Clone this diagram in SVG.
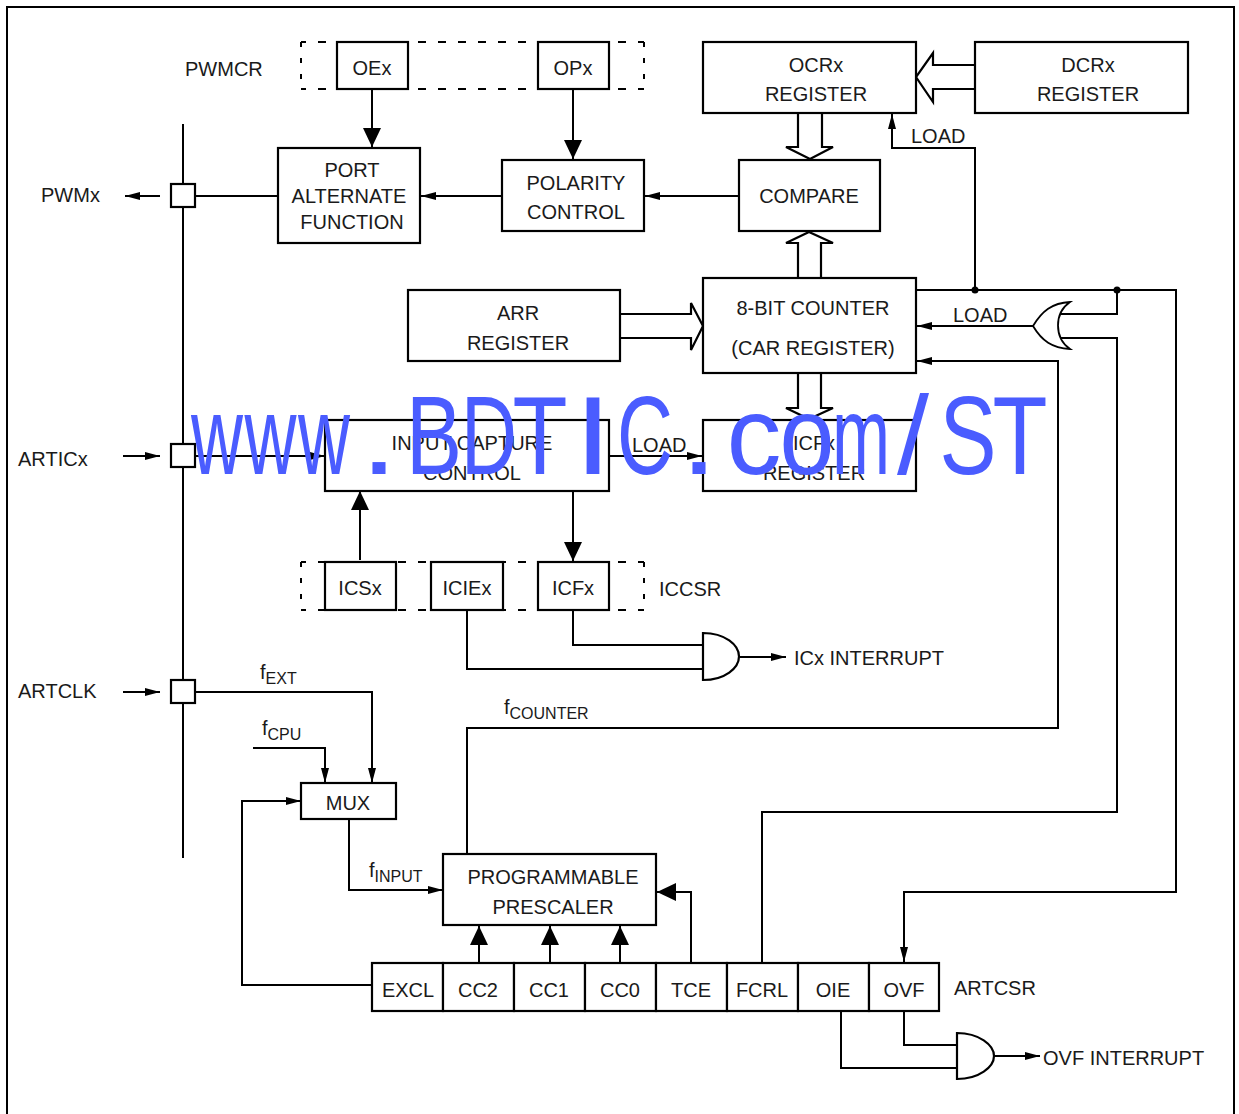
<svg xmlns="http://www.w3.org/2000/svg" width="1239" height="1114" viewBox="0 0 1239 1114">
<defs>
<marker id="a" markerUnits="userSpaceOnUse" markerWidth="16" markerHeight="10" refX="15" refY="5" orient="auto"><path d="M0 1L15 5L0 9Z" fill="#000"/></marker>
<marker id="b" markerUnits="userSpaceOnUse" markerWidth="20" markerHeight="20" refX="19" refY="10" orient="auto"><path d="M0 1L19 10L0 19Z" fill="#000"/></marker>
</defs>
<style>
text{font-family:"Liberation Sans",Arial,sans-serif;font-size:20px;fill:#1a1a1a;text-anchor:middle}
.l{text-anchor:start}
.sub{font-size:16px}
rect,.s{fill:#fff;stroke:#000;stroke-width:2.2}
.n{fill:none;stroke:#000;stroke-width:2}
.t{fill:none;stroke:#000;stroke-width:2.2}
.d{fill:none;stroke:#000;stroke-width:2;stroke-dasharray:8 12;stroke-dashoffset:3}
.v{fill:none;stroke:#000;stroke-width:2;stroke-dasharray:5 11}
.wm{font-size:112px;fill:#4a5cff;text-anchor:start}
</style>
<rect x="7" y="7" width="1227" height="1120" style="fill:#fff;stroke:#000;stroke-width:2"/>
<g id="connectors">
<path class="n" d="M183 124V858"/>
<path class="d" d="M301 42H644M301 89H644"/>
<path class="v" d="M301 42V89M644 42V89"/>
<path class="d" d="M301 562H644M301 610H644"/>
<path class="v" d="M301 562V610M644 562V610"/>
<path class="n" d="M372 89V147" marker-end="url(#b)"/>
<path class="n" d="M573 89V159" marker-end="url(#b)"/>
<path class="n" d="M278 196H195"/>
<path class="n" d="M160 196H125" marker-end="url(#a)"/>
<path class="n" d="M502 196H421" marker-end="url(#a)"/>
<path class="n" d="M739 196H645" marker-end="url(#a)"/>
<path class="n" d="M917 290H1176V892H904V962" marker-end="url(#a)"/>
<path class="n" d="M975 290V148H892V114" marker-end="url(#a)"/>
<path class="n" d="M1117 290V314H1060M1060 338H1117V812H762V963"/>
<path class="n" d="M1034 326H917" marker-end="url(#a)"/>
<path class="n" d="M467 854V728H1058V361H917" marker-end="url(#a)"/>
<path class="n" d="M609 456H702" marker-end="url(#a)"/>
<path class="n" d="M195 456H325" marker-end="url(#a)"/>
<path class="n" d="M123 456H160" marker-end="url(#a)"/>
<path class="n" d="M123 692H160" marker-end="url(#a)"/>
<path class="n" d="M360 560V491" marker-end="url(#b)"/>
<path class="n" d="M573 491V561" marker-end="url(#b)"/>
<path class="n" d="M573 610V645H703M467 610V669H703"/>
<path class="n" d="M740 657H786" marker-end="url(#a)"/>
<path class="n" d="M195 692H372V783" marker-end="url(#a)"/>
<path class="n" d="M253 748H325V783" marker-end="url(#a)"/>
<path class="n" d="M372 985H242V801H301" marker-end="url(#a)"/>
<path class="n" d="M349 819V890H443" marker-end="url(#a)"/>
<path class="n" d="M479 963V926" marker-end="url(#b)"/>
<path class="n" d="M550 963V926" marker-end="url(#b)"/>
<path class="n" d="M620 963V926" marker-end="url(#b)"/>
<path class="n" d="M691 963V892H657" marker-end="url(#b)"/>
<path class="n" d="M904 1011V1045H957M841 1011V1068H957"/>
<path class="n" d="M994 1056H1040" marker-end="url(#a)"/>
<path class="s" d="M975 65H933V53L916 77L933 102V89H975"/>
<path class="s" d="M798 113V147H786L810 159L833 147H822V113"/>
<path class="s" d="M798 278V243H786L809 232L833 243H821V278"/>
<path class="s" d="M620 314H691V303L703 326L691 350V338H620"/>
<path class="s" d="M798 373V408H786L809 419L833 408H821V373"/>
</g>
<g id="junctions"><circle cx="975" cy="290" r="3.500"/><circle cx="1117" cy="290" r="3.500"/></g>
<g id="pin-pwm"><rect x="171" y="184" width="24" height="23"/></g>
<g id="pin-artic"><rect x="171" y="444" width="24" height="23"/></g>
<g id="pin-artclk"><rect x="171" y="680" width="24" height="23"/></g>
<g id="oex"><rect x="337" y="42" width="71" height="47"/><text x="372" y="75">OEx</text></g>
<g id="opx"><rect x="538" y="42" width="71" height="47"/><text x="573" y="75">OPx</text></g>
<g id="ocr"><rect x="703" y="42" width="213" height="71"/><text x="816" y="72">OCRx</text><text x="816" y="101">REGISTER</text></g>
<g id="dcr"><rect x="975" y="42" width="213" height="71"/><text x="1088" y="72">DCRx</text><text x="1088" y="101">REGISTER</text></g>
<g id="paf"><rect x="278" y="148" width="142" height="95"/><text x="352" y="177">PORT</text><text x="349" y="203">ALTERNATE</text><text x="352" y="229">FUNCTION</text></g>
<g id="pol"><rect x="502" y="160" width="142" height="71"/><text x="576" y="190">POLARITY</text><text x="576" y="219">CONTROL</text></g>
<g id="cmp"><rect x="739" y="160" width="141" height="71"/><text x="809" y="203">COMPARE</text></g>
<g id="arr"><rect x="408" y="290" width="212" height="71"/><text x="518" y="320">ARR</text><text x="518" y="350">REGISTER</text></g>
<g id="cnt"><rect x="703" y="278" width="213" height="95"/><text x="813" y="315">8-BIT COUNTER</text><text x="813" y="355">(CAR REGISTER)</text></g>
<g id="icc"><rect x="325" y="420" width="284" height="71"/><text x="472" y="450">INPUT CAPTURE</text><text x="472" y="480">CONTROL</text></g>
<g id="icr"><rect x="703" y="420" width="213" height="71"/><text x="814" y="450">ICFx</text><text x="814" y="480">REGISTER</text></g>
<g id="icsx"><rect x="325" y="562" width="71" height="48"/><text x="360" y="595">ICSx</text></g>
<g id="iciex"><rect x="431" y="562" width="72" height="48"/><text x="467" y="595">ICIEx</text></g>
<g id="icfx"><rect x="538" y="562" width="71" height="48"/><text x="573" y="595">ICFx</text></g>
<g id="mux"><rect x="301" y="783" width="95" height="36"/><text x="348" y="810">MUX</text></g>
<g id="presc"><rect x="443" y="854" width="213" height="71"/><text x="553" y="884">PROGRAMMABLE</text><text x="553" y="914">PRESCALER</text></g>
<g id="csr">
<rect x="372" y="963" width="71" height="48"/><text x="408" y="997">EXCL</text>
<rect x="443" y="963" width="71" height="48"/><text x="478" y="997">CC2</text>
<rect x="514" y="963" width="71" height="48"/><text x="549" y="997">CC1</text>
<rect x="585" y="963" width="71" height="48"/><text x="620" y="997">CC0</text>
<rect x="656" y="963" width="71" height="48"/><text x="691" y="997">TCE</text>
<rect x="727" y="963" width="71" height="48"/><text x="762" y="997">FCRL</text>
<rect x="798" y="963" width="71" height="48"/><text x="833" y="997">OIE</text>
<rect x="869" y="963" width="70" height="48"/><text x="904" y="997">OVF</text>
</g>
<g id="and1"><path class="t" d="M703 633C725 633 739 645 739 656.500C739 668 725 680 703 680Z"/></g>
<g id="and2"><path class="t" d="M957 1033C979 1033 994 1045 994 1056C994 1067 979 1079 957 1079Z"/></g>
<g id="or1"><path class="t" style="stroke-width:1.800" d="M1070 302C1052 303 1042 311 1033 326C1042 341 1052 348 1070 349C1054 338 1054 313 1070 302Z"/></g>
<g id="labels">
<text class="l" x="185" y="76">PWMCR</text>
<text class="l" x="41" y="202">PWMx</text>
<text class="l" x="18" y="466">ARTICx</text>
<text class="l" x="18" y="698">ARTCLK</text>
<text class="l" x="659" y="596">ICCSR</text>
<text class="l" x="954" y="995">ARTCSR</text>
<text class="l" x="794" y="665">ICx INTERRUPT</text>
<text class="l" x="1043" y="1065">OVF INTERRUPT</text>
<text class="l" x="911" y="143">LOAD</text>
<text class="l" x="953" y="322">LOAD</text>
<text class="l" x="632" y="452">LOAD</text>
<text class="l" x="260" y="679">f<tspan class="sub" dy="5">EXT</tspan></text>
<text class="l" x="262" y="735">f<tspan class="sub" dy="5">CPU</tspan></text>
<text class="l" x="369" y="877">f<tspan class="sub" dy="5">INPUT</tspan></text>
<text class="l" x="504" y="714">f<tspan class="sub" dy="5">COUNTER</tspan></text>
</g>
<text class="wm" y="474"><tspan x="191" textLength="52" lengthAdjust="spacingAndGlyphs">w</tspan><tspan x="244.500" textLength="52" lengthAdjust="spacingAndGlyphs">w</tspan><tspan x="298" textLength="52" lengthAdjust="spacingAndGlyphs">w</tspan><tspan x="360" textLength="38" lengthAdjust="spacingAndGlyphs">.</tspan><tspan x="406" textLength="56" lengthAdjust="spacingAndGlyphs">B</tspan><tspan x="461" textLength="56" lengthAdjust="spacingAndGlyphs">D</tspan><tspan x="512.500" textLength="55" lengthAdjust="spacingAndGlyphs">T</tspan><tspan x="574" textLength="38" lengthAdjust="spacingAndGlyphs">I</tspan><tspan x="617" textLength="56" lengthAdjust="spacingAndGlyphs">C</tspan><tspan x="680" textLength="38" lengthAdjust="spacingAndGlyphs">.</tspan><tspan x="726.500" textLength="55" lengthAdjust="spacingAndGlyphs">c</tspan><tspan x="779.500" textLength="55" lengthAdjust="spacingAndGlyphs">o</tspan><tspan x="832" textLength="58" lengthAdjust="spacingAndGlyphs">m</tspan><tspan x="897" textLength="32" lengthAdjust="spacingAndGlyphs">/</tspan><tspan x="939.500" textLength="57" lengthAdjust="spacingAndGlyphs">S</tspan><tspan x="992.500" textLength="55" lengthAdjust="spacingAndGlyphs">T</tspan></text>
</svg>
